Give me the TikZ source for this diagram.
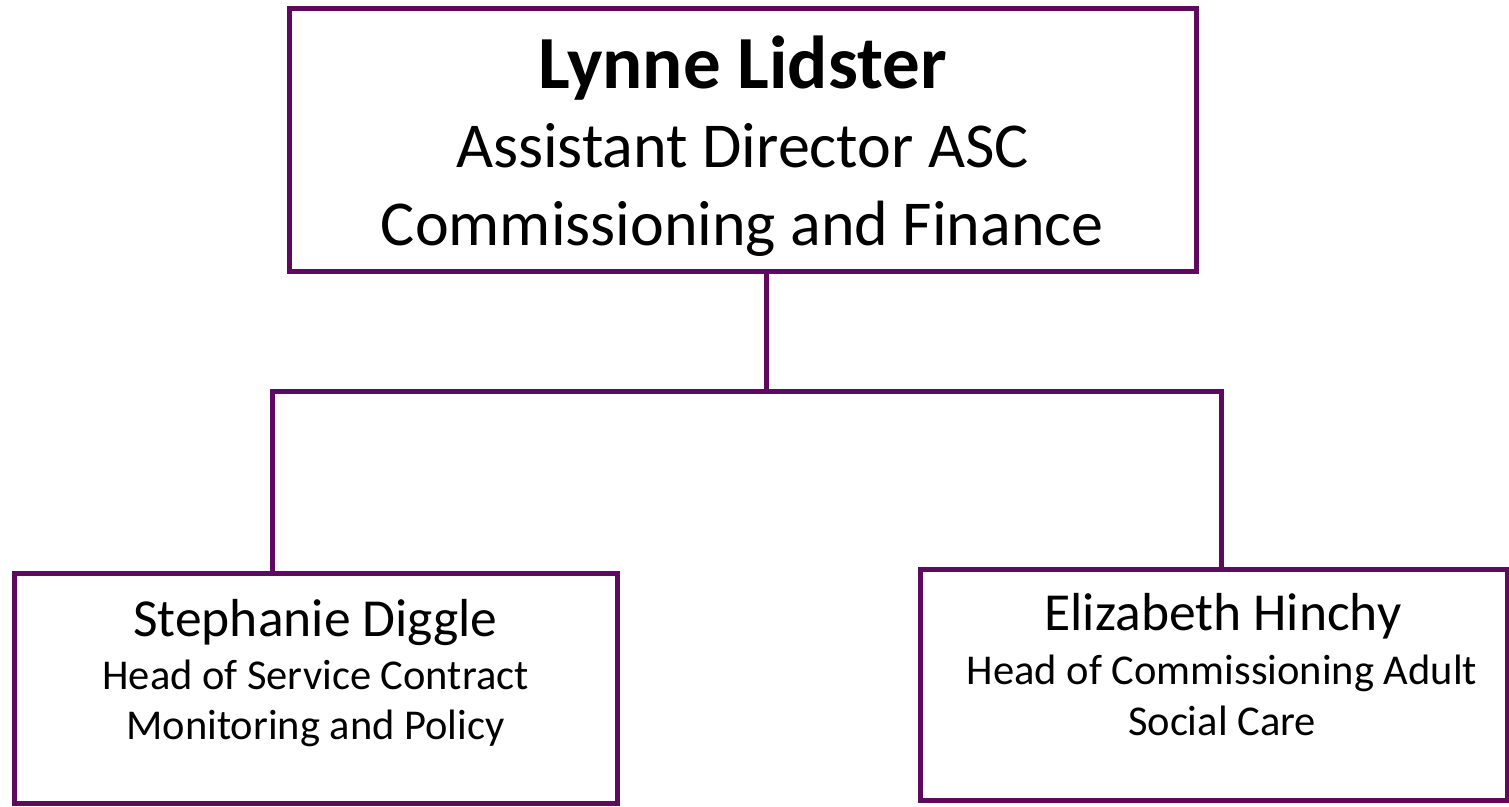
\documentclass[tikz,border=0pt]{standalone}
\usepackage{fontspec}
\setmainfont{Carlito}
\definecolor{orgpurple}{HTML}{5E0A5E}
\begin{document}
\begin{tikzpicture}[x=1pt,y=-1pt,
  box/.style={draw=orgpurple,line width=5pt,rectangle,inner sep=0pt,fill=none},
  conn/.style={draw=orgpurple,line width=5pt},
  txt/.style={anchor=base,inner sep=0pt,text=black}]
\useasboundingbox (0,0) rectangle (1509,806);
% boxes
\node[box,minimum width=907pt,minimum height=263pt] (top) at (742.5,139.5) {};
\node[box,minimum width=603pt,minimum height=230pt] (left) at (315.5,688) {};
\node[box,minimum width=587pt,minimum height=231pt] (right) at (1213.5,685) {};
% texts
\node[txt,font=\fontsize{75}{75}\selectfont\bfseries] (t1) at (742.5,88) {Lynne Lidster};
\node[txt,font=\fontsize{64}{64}\selectfont] (t2) at (742.5,167) {Assistant Director ASC};
\node[txt,font=\fontsize{64}{64}\selectfont] (t3) at (742.5,245) {Commissioning and Finance};
\node[txt,font=\fontsize{53.5}{53.5}\selectfont] (l1) at (315.5,636) {Stephanie Diggle};
\node[txt,font=\fontsize{42.5}{42.5}\selectfont] (l2) at (315.5,689) {Head of Service Contract};
\node[txt,font=\fontsize{42.5}{42.5}\selectfont] (l3) at (315.5,739) {Monitoring and Policy};
\node[txt,font=\fontsize{53.5}{53.5}\selectfont] (r1) at (1223,630) {Elizabeth Hinchy};
\node[txt,font=\fontsize{42.5}{42.5}\selectfont] (r2) at (1222,684) {Head of Commissioning Adult};
\node[txt,font=\fontsize{42.5}{42.5}\selectfont] (r3) at (1222,735) {Social Care};
% connectors
\coordinate (j) at (766,391);
\coordinate (jl) at (272,391);
\coordinate (jr) at (1221,391);
\draw[conn] (j |- top.south) -- (j);
\draw[conn,line cap=rect] (jl) -- (jr);
\draw[conn] (jl) -- (jl |- left.north);
\draw[conn] (jr) -- (jr |- right.north);
\end{tikzpicture}
\end{document}
